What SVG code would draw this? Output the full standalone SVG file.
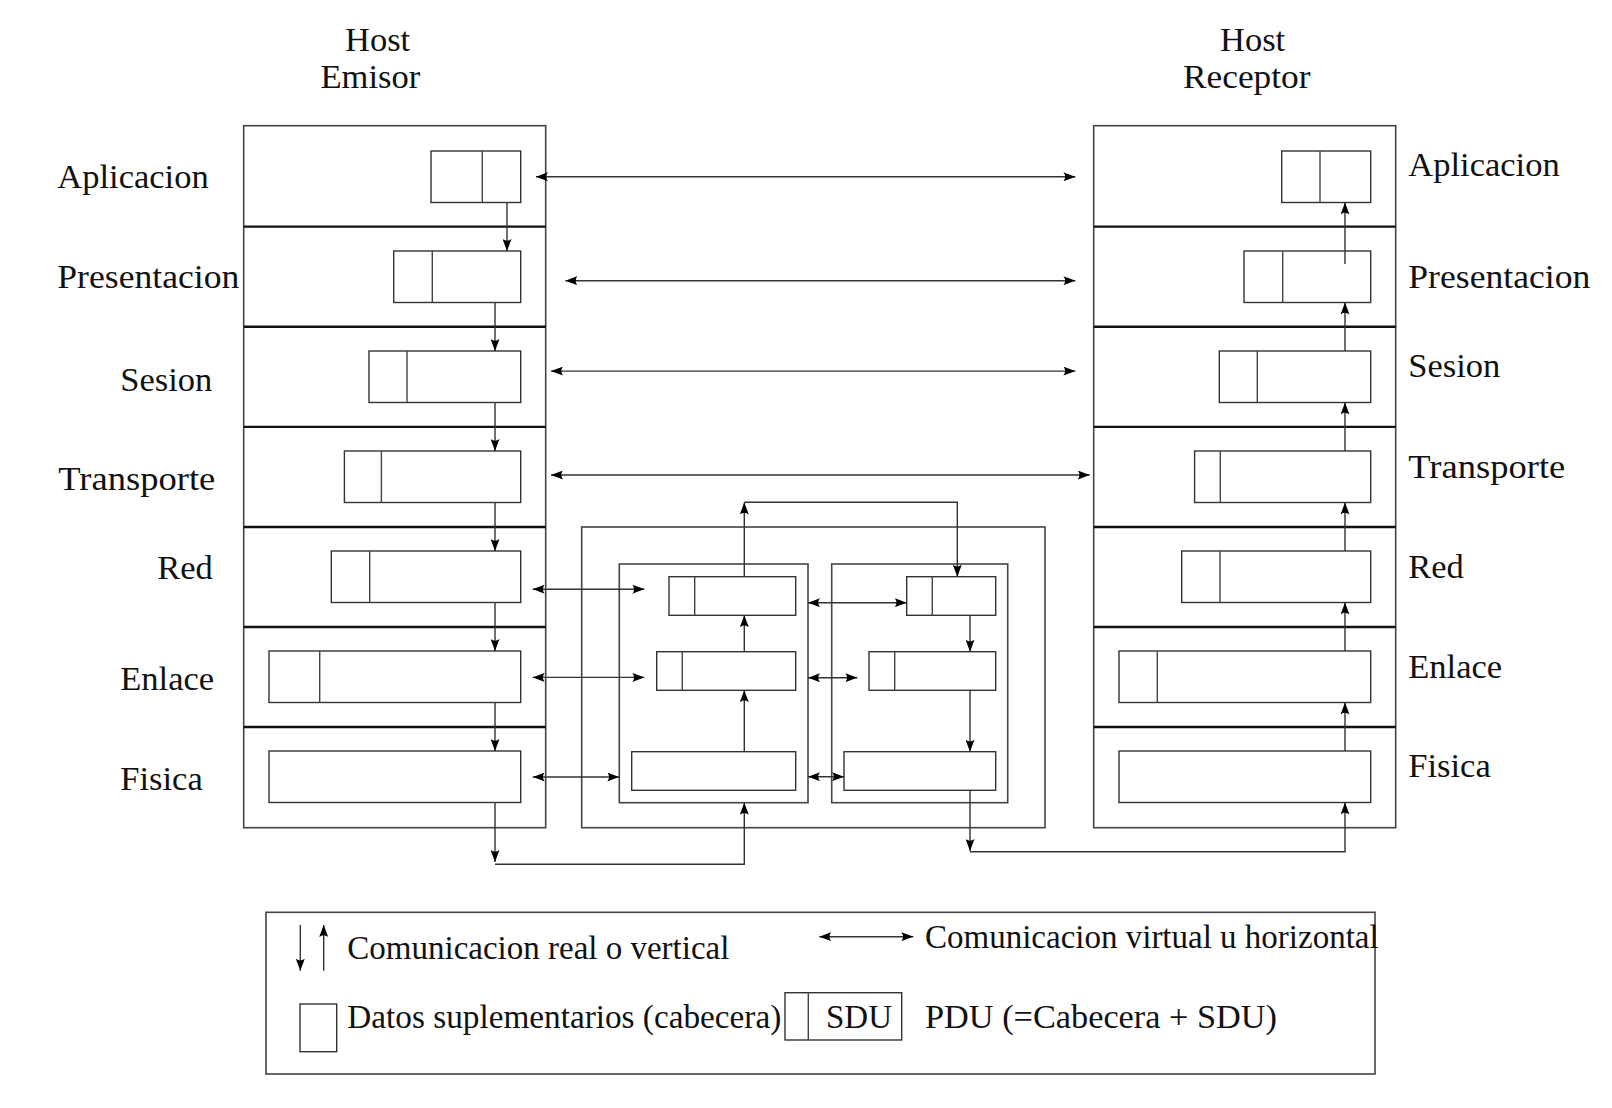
<svg xmlns="http://www.w3.org/2000/svg" width="1612" height="1108" viewBox="0 0 1612 1108">
<style>
.bg{fill:#fff}
.host{fill:none;stroke:#444;stroke-width:1.6}
.sep{stroke:#111;stroke-width:2.4}
.pdu{fill:#fff;stroke:#333;stroke-width:1.4}
.div{stroke:#444;stroke-width:1.4}
.ar{fill:none;stroke:#333;stroke-width:1.4}
.lbl{font-family:"Liberation Serif","Times New Roman",serif;font-size:34.5px;fill:#111}
.leg{font-family:"Liberation Serif","Times New Roman",serif;font-size:33px;fill:#111}
</style>
<defs>
<marker id="ah" viewBox="0 0 12 9" refX="12" refY="4.5" markerWidth="12" markerHeight="9" markerUnits="userSpaceOnUse" orient="auto-start-reverse">
<path d="M0,0 Q3.5,4.5 0,9 L12,4.5 Z" fill="#000"/>
</marker>
</defs>
<rect class="bg" width="1612" height="1108"/>

<g id="titles">
<text class="lbl" x="345" y="50.7">Host</text>
<text class="lbl" x="320.5" y="88.3">Emisor</text>
<text class="lbl" x="1220" y="50.7">Host</text>
<text class="lbl" x="1183" y="88.3" textLength="127.5" lengthAdjust="spacingAndGlyphs">Receptor</text>
</g>

<g id="labels-left">
<text class="lbl" x="57.3" y="188.3">Aplicacion</text>
<text class="lbl" x="57.3" y="288.3" textLength="182" lengthAdjust="spacingAndGlyphs">Presentacion</text>
<text class="lbl" x="120.3" y="390.5">Sesion</text>
<text class="lbl" x="58.3" y="490" textLength="157" lengthAdjust="spacingAndGlyphs">Transporte</text>
<text class="lbl" x="157.3" y="578.5">Red</text>
<text class="lbl" x="120.3" y="689.5">Enlace</text>
<text class="lbl" x="120.3" y="789.5">Fisica</text>
</g>
<g id="labels-right">
<text class="lbl" x="1408.3" y="176">Aplicacion</text>
<text class="lbl" x="1408.3" y="288.3" textLength="182" lengthAdjust="spacingAndGlyphs">Presentacion</text>
<text class="lbl" x="1408.3" y="377">Sesion</text>
<text class="lbl" x="1408.3" y="478" textLength="157" lengthAdjust="spacingAndGlyphs">Transporte</text>
<text class="lbl" x="1408.3" y="577.5">Red</text>
<text class="lbl" x="1408.3" y="677.5">Enlace</text>
<text class="lbl" x="1408.3" y="777">Fisica</text>
</g>

<g id="host-emisor">
<rect class="host" x="243.7" y="125.7" width="302" height="702"/>
<line class="sep" x1="243.7" y1="226.6" x2="545.7" y2="226.6"/>
<line class="sep" x1="243.7" y1="326.8" x2="545.7" y2="326.8"/>
<line class="sep" x1="243.7" y1="426.9" x2="545.7" y2="426.9"/>
<line class="sep" x1="243.7" y1="527" x2="545.7" y2="527"/>
<line class="sep" x1="243.7" y1="627" x2="545.7" y2="627"/>
<line class="sep" x1="243.7" y1="727" x2="545.7" y2="727"/>
<rect class="pdu" x="431" y="151" width="89.7" height="51.5"/><line class="div" x1="482.3" y1="151" x2="482.3" y2="202.5"/>
<rect class="pdu" x="393.7" y="251" width="127" height="51.5"/><line class="div" x1="432.3" y1="251" x2="432.3" y2="302.5"/>
<rect class="pdu" x="369" y="351" width="151.7" height="51.5"/><line class="div" x1="407" y1="351" x2="407" y2="402.5"/>
<rect class="pdu" x="344.4" y="451" width="176.3" height="51.5"/><line class="div" x1="381.4" y1="451" x2="381.4" y2="502.5"/>
<rect class="pdu" x="331.3" y="551" width="189.4" height="51.5"/><line class="div" x1="369.7" y1="551" x2="369.7" y2="602.5"/>
<rect class="pdu" x="269" y="651" width="251.7" height="51.5"/><line class="div" x1="319.7" y1="651" x2="319.7" y2="702.5"/>
<rect class="pdu" x="269" y="751" width="251.7" height="51.5"/>
</g>

<g id="host-receptor">
<rect class="host" x="1093.7" y="125.7" width="302" height="702"/>
<line class="sep" x1="1093.7" y1="226.6" x2="1395.7" y2="226.6"/>
<line class="sep" x1="1093.7" y1="326.8" x2="1395.7" y2="326.8"/>
<line class="sep" x1="1093.7" y1="426.9" x2="1395.7" y2="426.9"/>
<line class="sep" x1="1093.7" y1="527" x2="1395.7" y2="527"/>
<line class="sep" x1="1093.7" y1="627" x2="1395.7" y2="627"/>
<line class="sep" x1="1093.7" y1="727" x2="1395.7" y2="727"/>
<rect class="pdu" x="1281.7" y="151" width="89" height="51.5"/><line class="div" x1="1320" y1="151" x2="1320" y2="202.5"/>
<rect class="pdu" x="1244" y="251" width="126.7" height="51.5"/><line class="div" x1="1282.7" y1="251" x2="1282.7" y2="302.5"/>
<rect class="pdu" x="1219.3" y="351" width="151.4" height="51.5"/><line class="div" x1="1257.3" y1="351" x2="1257.3" y2="402.5"/>
<rect class="pdu" x="1194.6" y="451" width="176.1" height="51.5"/><line class="div" x1="1220.3" y1="451" x2="1220.3" y2="502.5"/>
<rect class="pdu" x="1181.7" y="551" width="189" height="51.5"/><line class="div" x1="1220" y1="551" x2="1220" y2="602.5"/>
<rect class="pdu" x="1119" y="651" width="251.7" height="51.5"/><line class="div" x1="1157.3" y1="651" x2="1157.3" y2="702.5"/>
<rect class="pdu" x="1119" y="751" width="251.7" height="51.5"/>
</g>

<g id="router">
<rect class="host" x="581.7" y="527" width="463.3" height="300.7"/>
<rect class="host" x="619.3" y="564" width="188.7" height="238.7"/>
<rect class="host" x="831.7" y="564" width="176" height="238.7"/>
<rect class="pdu" x="669" y="576.7" width="126.7" height="38.6"/><line class="div" x1="694.7" y1="576.7" x2="694.7" y2="615.3"/>
<rect class="pdu" x="656.7" y="651.7" width="139" height="38.6"/><line class="div" x1="682.3" y1="651.7" x2="682.3" y2="690.3"/>
<rect class="pdu" x="631.7" y="751.7" width="164" height="38.6"/>
<rect class="pdu" x="906.7" y="576.7" width="89" height="38.6"/><line class="div" x1="932.3" y1="576.7" x2="932.3" y2="615.3"/>
<rect class="pdu" x="869" y="651.7" width="126.7" height="38.6"/><line class="div" x1="894.7" y1="651.7" x2="894.7" y2="690.3"/>
<rect class="pdu" x="844" y="751.7" width="151.7" height="38.6"/>
</g>

<g id="connectors">
<line class="ar" x1="507" y1="202.5" x2="507" y2="251" marker-end="url(#ah)"/>
<line class="ar" x1="495" y1="302.5" x2="495" y2="351" marker-end="url(#ah)"/>
<line class="ar" x1="495" y1="402.5" x2="495" y2="451" marker-end="url(#ah)"/>
<line class="ar" x1="495" y1="502.5" x2="495" y2="551" marker-end="url(#ah)"/>
<line class="ar" x1="495" y1="602.5" x2="495" y2="651" marker-end="url(#ah)"/>
<line class="ar" x1="495" y1="702.5" x2="495" y2="751" marker-end="url(#ah)"/>
<line class="ar" x1="495" y1="802.5" x2="495" y2="862" marker-end="url(#ah)"/>
<polyline class="ar" points="495,864.3 744.3,864.3 744.3,802.7" marker-end="url(#ah)"/>
<line class="ar" x1="744.3" y1="751.7" x2="744.3" y2="690.3" marker-end="url(#ah)"/>
<line class="ar" x1="744.3" y1="651.7" x2="744.3" y2="615.3" marker-end="url(#ah)"/>
<line class="ar" x1="744.3" y1="576.7" x2="744.3" y2="502.5" marker-end="url(#ah)"/>
<polyline class="ar" points="744.3,502.3 957.3,502.3 957.3,576.7" marker-end="url(#ah)"/>
<line class="ar" x1="970" y1="615.3" x2="970" y2="651.7" marker-end="url(#ah)"/>
<line class="ar" x1="970" y1="690.3" x2="970" y2="751.7" marker-end="url(#ah)"/>
<line class="ar" x1="970" y1="790.3" x2="970" y2="851" marker-end="url(#ah)"/>
<polyline class="ar" points="970,851.7 1345,851.7 1345,802.5" marker-end="url(#ah)"/>
<line class="ar" x1="1345" y1="751" x2="1345" y2="702.5" marker-end="url(#ah)"/>
<line class="ar" x1="1345" y1="651" x2="1345" y2="602.5" marker-end="url(#ah)"/>
<line class="ar" x1="1345" y1="551" x2="1345" y2="502.5" marker-end="url(#ah)"/>
<line class="ar" x1="1345" y1="451" x2="1345" y2="402.5" marker-end="url(#ah)"/>
<line class="ar" x1="1345" y1="351" x2="1345" y2="302.5" marker-end="url(#ah)"/>
<line class="ar" x1="1345" y1="264" x2="1345" y2="202.5" marker-end="url(#ah)"/>
<line class="ar" x1="536" y1="176.8" x2="1075.4" y2="176.8" marker-start="url(#ah)" marker-end="url(#ah)"/>
<line class="ar" x1="565.4" y1="280.7" x2="1075.4" y2="280.7" marker-start="url(#ah)" marker-end="url(#ah)"/>
<line class="ar" x1="551" y1="371.1" x2="1075.4" y2="371.1" marker-start="url(#ah)" marker-end="url(#ah)"/>
<line class="ar" x1="551" y1="475" x2="1089.7" y2="475" marker-start="url(#ah)" marker-end="url(#ah)"/>
<line class="ar" x1="532.7" y1="589.2" x2="644.3" y2="589.2" marker-start="url(#ah)" marker-end="url(#ah)"/>
<line class="ar" x1="532.7" y1="677.4" x2="644.3" y2="677.4" marker-start="url(#ah)" marker-end="url(#ah)"/>
<line class="ar" x1="532.7" y1="777" x2="619.3" y2="777" marker-start="url(#ah)" marker-end="url(#ah)"/>
<line class="ar" x1="808" y1="602.7" x2="906.7" y2="602.7" marker-start="url(#ah)" marker-end="url(#ah)"/>
<line class="ar" x1="808" y1="677.7" x2="857.3" y2="677.7" marker-start="url(#ah)" marker-end="url(#ah)"/>
<line class="ar" x1="808" y1="776.7" x2="844" y2="776.7" marker-start="url(#ah)" marker-end="url(#ah)"/>
</g>

<g id="legend">
<rect class="host" x="266" y="912.3" width="1109" height="161.7"/>
<line class="ar" x1="300.3" y1="925" x2="300.3" y2="970.7" marker-end="url(#ah)"/>
<line class="ar" x1="323.7" y1="970.7" x2="323.7" y2="925" marker-end="url(#ah)"/>
<text class="leg" x="347.3" y="959.3">Comunicacion real o vertical</text>
<line class="ar" x1="819.3" y1="936.7" x2="913.3" y2="936.7" marker-start="url(#ah)" marker-end="url(#ah)"/>
<text class="leg" x="925" y="947.7">Comunicacion virtual u horizontal</text>
<rect class="pdu" x="300" y="1004" width="36.7" height="47.7"/>
<text class="leg" x="347.3" y="1028.3" textLength="434" lengthAdjust="spacingAndGlyphs">Datos suplementarios (cabecera)</text>
<rect class="pdu" x="785" y="992.7" width="116.7" height="47.3"/>
<line class="div" x1="808.3" y1="992.7" x2="808.3" y2="1040"/>
<text class="leg" x="892" y="1028.3" text-anchor="end">SDU</text>
<text class="leg" x="925" y="1028.3" textLength="352" lengthAdjust="spacingAndGlyphs">PDU (=Cabecera + SDU)</text>
</g>
</svg>
